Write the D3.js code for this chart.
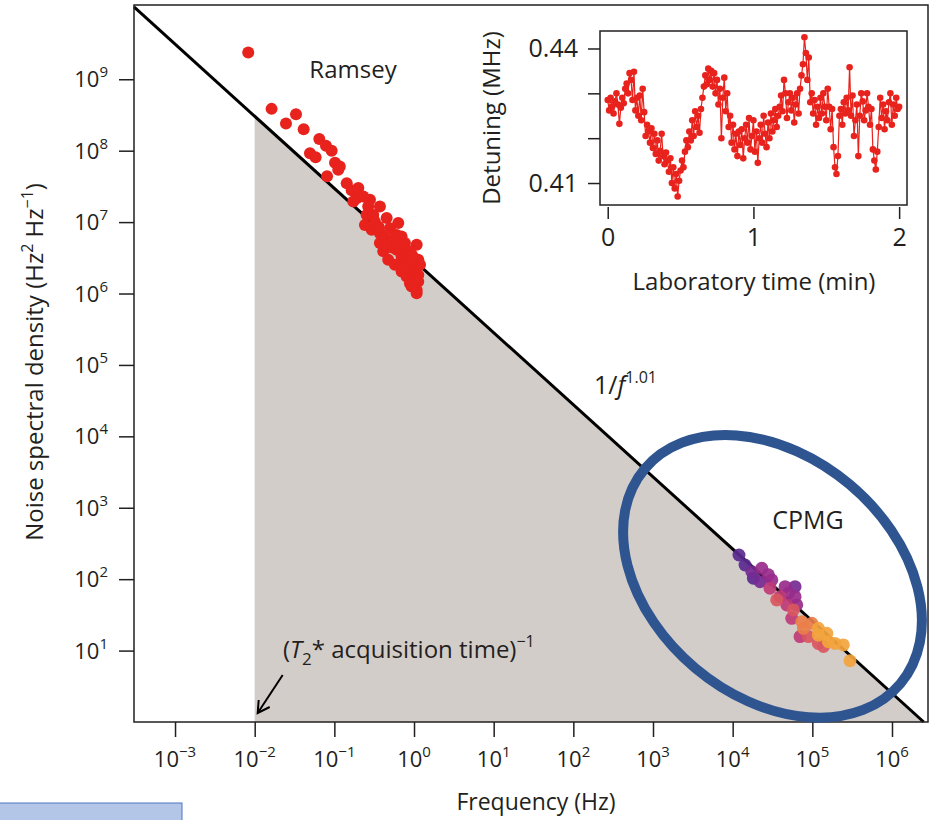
<!DOCTYPE html>
<meta charset="utf-8">
<head>
<style>
body {
  margin: 0;
  background: #fff;
  font-family: 'Open Sans', 'Noto Sans', sans-serif;
}
svg text {
  fill: #231f20;
}
.axis path {
  display: none;
}
.axis line {
  stroke: #231f20;
  stroke-width: 1.5;
}
</style>
</head>
<body>
<div id="chart"></div>

<script src="https://cdn.jsdelivr.net/npm/d3@7"></script>
<script>

// ---- main panel data ----
var xTickExps = [-3, -2, -1, 0, 1, 2, 3, 4, 5, 6];
var yTickExps = [1, 2, 3, 4, 5, 6, 7, 8, 9];

// 1/f fit: S = lineAmp / f^lineSlope
var lineAmp = 2.9e6;
var lineSlope = 1.01;
var shadeStart = 0.01;   // (T2* acquisition time)^-1

var ramseyFreq = [8.3e-3, 1.63e-2, 3.30e-2, 2.47e-2, 4.12e-2, 6.47e-2, 7.85e-2, 9.25e-2, 4.94e-2, 5.82e-2,
  0.102, 0.117, 0.112, 8.1e-2, 0.143, 0.165, 0.200, 0.191, 0.231, 0.280,
  0.173, 0.266, 0.373, 0.254, 0.308, 0.453, 0.634, 0.242, 0.294, 0.499,
  0.373, 0.605, 0.698, 0.373, 0.499, 0.769, 1.08, 0.411, 0.605, 0.889,
  0.474, 0.698, 1.13, 0.575, 0.845, 1.19, 0.698, 0.977, 0.807, 1.13,
  0.889, 1.13, 1.08, 0.933, 1.08, 0.323, 0.528, 0.769, 0.432, 0.942,
  0.36, 0.55, 0.66, 0.82, 0.95, 1.02, 0.44, 0.72];
var ramseyPsd = [2.37e9, 3.85e8, 3.24e8, 2.40e8, 2.00e8, 1.46e8, 1.17e8, 1.00e8, 9.2e7, 8.1e7,
  6.8e7, 6.0e7, 5.4e7, 4.4e7, 3.5e7, 2.8e7, 3.0e7, 2.16e7, 2.28e7, 2.05e7,
  1.94e7, 1.65e7, 1.65e7, 1.26e7, 1.26e7, 1.14e7, 9.7e6, 9.1e6, 7.8e6, 8.2e6,
  7.0e6, 6.6e6, 6.3e6, 5.1e6, 5.3e6, 5.1e6, 4.8e6, 3.9e6, 4.1e6, 3.9e6,
  2.96e6, 3.3e6, 2.96e6, 2.52e6, 2.52e6, 2.52e6, 2.03e6, 2.14e6, 1.73e6, 1.82e6,
  1.39e6, 1.47e6, 1.12e6, 1.25e6, 1.01e6, 1.01e7, 4.4e6, 3.2e6, 6.0e6, 2.77e6,
  8.6e6, 5.8e6, 4.5e6, 3.5e6, 3.4e6, 1.6e6, 4.9e6, 2.4e6];

var cpmgFreq = [1.20e4, 1.43e4, 1.74e4, 1.82e4, 2.32e4, 2.81e4, 3.10e4, 2.21e4, 2.94e4, 4.55e4,
  6.07e4, 3.94e4, 5.01e4, 3.57e4, 4.78e4, 6.37e4, 5.79e4, 5.52e4, 7.38e4, 7.74e4,
  9.86e4, 1.19e5, 7.01e4, 8.93e4, 1.19e5, 1.52e5, 1.19e5, 1.59e5, 1.93e5, 2.45e5,
  1.38e5, 2.97e5, 6.07e4];
var cpmgPsd = [218, 158, 127, 103, 142, 115, 97.5, 92.3, 74.6, 78.5,
  78.5, 56.9, 63.5, 51.2, 43.6, 43.6, 37.1, 28.3, 25.4, 20.5,
  24.1, 20.5, 15.7, 15.7, 16.5, 17.5, 12.6, 13.3, 12.6, 12.0,
  11.4, 7.2, 56.9];
var cpmgGroup = [0, 0, 1, 0, 2, 2, 2, 1, 3, 2,
  1, 3, 2, 4, 3, 2, 4, 3, 5, 5,
  5, 6, 3, 4, 6, 6, 4, 6, 6, 6,
  4, 6, 2];
var cpmgPalette = ["#5b2a90", "#752a93", "#982b8b", "#c03b77", "#d95760", "#ea7e49", "#f3a43c"];

// ---- inset data: detuning (MHz), one sample every 0.01 min ----
var insetStep = 0.01;
var detuning = [
  0.4285, 0.4262, 0.4290, 0.4270, 0.4255, 0.4282, 0.4300, 0.4275, 0.4232, 0.4268, 0.4290,
  0.4278, 0.4310, 0.4322, 0.4300, 0.4345, 0.4330, 0.4285, 0.4348, 0.4262, 0.4290,
  0.4250, 0.4295, 0.4240, 0.4310, 0.4258, 0.4205, 0.4230, 0.4215, 0.4190, 0.4222,
  0.4178, 0.4210, 0.4165, 0.4195, 0.4150, 0.4172, 0.4210, 0.4160, 0.4142, 0.4168,
  0.4150, 0.4125, 0.4155, 0.4100, 0.4135, 0.4088, 0.4120, 0.4070, 0.4105, 0.4128,
  0.4150, 0.4135, 0.4170, 0.4195, 0.4180, 0.4215, 0.4195, 0.4240, 0.4205, 0.4260,
  0.4225, 0.4250, 0.4212, 0.4265, 0.4290, 0.4315, 0.4340, 0.4320, 0.4355, 0.4330,
  0.4350, 0.4315, 0.4345, 0.4300, 0.4330, 0.4275, 0.4310, 0.4200, 0.4290, 0.4335,
  0.4260, 0.4300, 0.4225, 0.4250, 0.4190, 0.4230, 0.4175, 0.4210, 0.4160, 0.4215,
  0.4185, 0.4220, 0.4155, 0.4200, 0.4230, 0.4190, 0.4245, 0.4175, 0.4205, 0.4240,
  0.4170, 0.4215, 0.4145, 0.4200, 0.4230, 0.4190, 0.4250, 0.4210, 0.4180, 0.4235,
  0.4200, 0.4255, 0.4215, 0.4240, 0.4265, 0.4225, 0.4250, 0.4270, 0.4295, 0.4260,
  0.4330, 0.4300, 0.4245, 0.4280, 0.4300, 0.4262, 0.4290, 0.4235, 0.4275, 0.4300,
  0.4255, 0.4310, 0.4340, 0.4365, 0.4425, 0.4390, 0.4330, 0.4380, 0.4280, 0.4300,
  0.4255, 0.4285, 0.4230, 0.4270, 0.4245, 0.4290, 0.4255, 0.4300, 0.4270, 0.4240,
  0.4310, 0.4270, 0.4220, 0.4265, 0.4180, 0.4135, 0.4120, 0.4160, 0.4250, 0.4265,
  0.4230, 0.4280, 0.4255, 0.4290, 0.4262, 0.4358, 0.4250, 0.4295, 0.4205, 0.4240,
  0.4275, 0.4160, 0.4250, 0.4300, 0.4282, 0.4240, 0.4262, 0.4300, 0.4270, 0.4230,
  0.4265, 0.4175, 0.4150, 0.4130, 0.4170, 0.4225, 0.4290, 0.4245, 0.4275, 0.4220,
  0.4260, 0.4240, 0.4280, 0.4300, 0.4230, 0.4275, 0.4250, 0.4290, 0.4265, 0.4270];
var insetXTicks = [0, 1, 2];
var insetYTicks = [0.41, 0.42, 0.43, 0.44];
var insetYLabelled = [0.41, 0.44];

// ---- layout ----
var width = 940, height = 820;
var frame = {left: 134, top: 5, right: 928, bottom: 722};
var inset = {left: 600, top: 31, right: 907, bottom: 205};

var svg = d3.select("#chart").append("svg")
    .attr("width", width)
    .attr("height", height);

var x = d3.scaleLog()
    .domain([Math.pow(10, -3.515), Math.pow(10, 6.452)])
    .range([frame.left, frame.right]);

var y = d3.scaleLog()
    .domain([1, Math.pow(10, 10.04)])
    .range([frame.bottom, frame.top]);

function fit(f) { return lineAmp * Math.pow(f, -lineSlope); }
var fEnd = Math.pow(lineAmp, 1 / lineSlope);   // where the fit hits 10^0

// shaded region under the fit
svg.append("path")
    .datum([shadeStart, fEnd])
    .attr("fill", "#d3cdca")
    .attr("d", d3.area()
      .x(function(d) { return x(d); })
      .y0(y(1))
      .y1(function(d) { return y(fit(d)); }));

// fit line
svg.append("path")
    .datum([x.domain()[0], fEnd])
    .attr("fill", "none")
    .attr("stroke", "#000")
    .attr("stroke-width", 3)
    .attr("d", d3.line()
      .x(function(d) { return x(d); })
      .y(function(d) { return y(fit(d)); }));

// frame
svg.append("rect")
    .attr("x", frame.left)
    .attr("y", frame.top)
    .attr("width", frame.right - frame.left)
    .attr("height", frame.bottom - frame.top)
    .attr("fill", "none")
    .attr("stroke", "#231f20")
    .attr("stroke-width", 1.5);

// axes (ticks only, labels drawn with superscripts below)
svg.append("g")
    .attr("class", "axis")
    .attr("transform", "translate(0," + frame.bottom + ")")
    .call(d3.axisBottom(x)
      .tickValues(xTickExps.map(function(e) { return Math.pow(10, e); }))
      .tickSize(15)
      .tickFormat(""));

svg.append("g")
    .attr("class", "axis")
    .attr("transform", "translate(" + frame.left + ",0)")
    .call(d3.axisLeft(y)
      .tickValues(yTickExps.map(function(e) { return Math.pow(10, e); }))
      .tickSize(15)
      .tickFormat(""));

function powLabel(sel, e) {
  sel.append("tspan").text("10");
  sel.append("tspan")
      .attr("font-size", 15)
      .attr("dy", -10)
      .text(e < 0 ? "\u2212" + (-e) : e);
}

svg.selectAll(".xlab")
    .data(xTickExps)
  .enter().append("text")
    .attr("class", "xlab")
    .attr("x", function(d) { return x(Math.pow(10, d)); })
    .attr("y", 767)
    .attr("text-anchor", "middle")
    .attr("font-size", 22)
    .each(function(d) { powLabel(d3.select(this), d); });

svg.selectAll(".ylab")
    .data(yTickExps)
  .enter().append("text")
    .attr("class", "ylab")
    .attr("x", 108)
    .attr("y", function(d) { return y(Math.pow(10, d)) + 8; })
    .attr("text-anchor", "end")
    .attr("font-size", 22)
    .each(function(d) { powLabel(d3.select(this), d); });

svg.append("text")
    .attr("x", (frame.left + frame.right) / 2 + 5)
    .attr("y", 810)
    .attr("text-anchor", "middle")
    .attr("font-size", 23)
    .text("Frequency (Hz)");

var yTitle = svg.append("text")
    .attr("transform", "translate(43," + 362 + ") rotate(-90)")
    .attr("text-anchor", "middle")
    .attr("font-size", 24);
yTitle.append("tspan").text("Noise spectral density (Hz");
yTitle.append("tspan").attr("font-size", 16).attr("dy", -10).text("2");
yTitle.append("tspan").attr("dy", 10).text(" Hz");
yTitle.append("tspan").attr("font-size", 16).attr("dy", -10).text("\u22121");
yTitle.append("tspan").attr("dy", 10).text(")");

// CPMG ellipse
var ellCx = x(Math.pow(10, 4.50)), ellCy = y(Math.pow(10, 2.04));
svg.append("ellipse")
    .attr("transform", "translate(" + ellCx + "," + ellCy + ") rotate(40)")
    .attr("rx", 167)
    .attr("ry", 120)
    .attr("fill", "none")
    .attr("stroke", "#2f5591")
    .attr("stroke-width", 10);

// Ramsey points
svg.append("g").selectAll("circle")
    .data(ramseyFreq)
  .enter().append("circle")
    .attr("cx", function(d) { return x(d); })
    .attr("cy", function(d, i) { return y(ramseyPsd[i]); })
    .attr("r", 6)
    .attr("fill", "#e8221c");

// CPMG points, purple underneath orange
var cpmg = cpmgFreq.map(function(f, i) { return {f: f, s: cpmgPsd[i], g: cpmgGroup[i]}; })
    .sort(function(a, b) { return a.g - b.g; });

svg.append("g").selectAll("circle")
    .data(cpmg)
  .enter().append("circle")
    .attr("cx", function(d) { return x(d.f); })
    .attr("cy", function(d) { return y(d.s); })
    .attr("r", 6.5)
    .attr("fill", function(d) { return cpmgPalette[d.g]; })
    .attr("fill-opacity", 0.92);

// annotations
svg.append("text")
    .attr("x", 353).attr("y", 78)
    .attr("text-anchor", "middle")
    .attr("font-size", 24)
    .text("Ramsey");

svg.append("text")
    .attr("x", 808).attr("y", 529)
    .attr("text-anchor", "middle")
    .attr("font-size", 25)
    .text("CPMG");

var fitLab = svg.append("text")
    .attr("x", 594).attr("y", 394)
    .attr("font-size", 25);
fitLab.append("tspan").text("1/");
fitLab.append("tspan").attr("font-style", "italic").text("f");
fitLab.append("tspan").attr("font-size", 16).attr("dy", -11).text("1.01");

var acq = svg.append("text")
    .attr("x", 283).attr("y", 658)
    .attr("font-size", 24);
acq.append("tspan").text("(");
acq.append("tspan").attr("font-style", "italic").text("T");
acq.append("tspan").attr("font-size", 17).attr("dy", 7).text("2");
acq.append("tspan").attr("dy", -7).text("* acquisition time)");
acq.append("tspan").attr("font-size", 16).attr("dy", -11).text("\u22121");

// arrow pointing at the start of the shaded region
var tipX = x(shadeStart) + 3, tipY = y(1) - 9;
svg.append("line")
    .attr("x1", tipX + 25).attr("y1", tipY - 38)
    .attr("x2", tipX).attr("y2", tipY)
    .attr("stroke", "#000")
    .attr("stroke-width", 2);
svg.append("path")
    .attr("d", "M" + (tipX + 1) + "," + (tipY - 13) + "L" + tipX + "," + tipY + "L" + (tipX + 12) + "," + (tipY - 6))
    .attr("fill", "none")
    .attr("stroke", "#000")
    .attr("stroke-width", 2);

// ---- inset ----
var ix = d3.scaleLinear()
    .domain([-0.053, 2.054])
    .range([inset.left, inset.right]);

var iy = d3.scaleLinear()
    .domain([0.4051, 0.4439])
    .range([inset.bottom, inset.top]);

svg.append("rect")
    .attr("x", inset.left)
    .attr("y", inset.top)
    .attr("width", inset.right - inset.left)
    .attr("height", inset.bottom - inset.top)
    .attr("fill", "#fff")
    .attr("stroke", "#231f20")
    .attr("stroke-width", 1.5);

svg.append("g")
    .attr("class", "axis")
    .attr("transform", "translate(0," + (inset.bottom + 2) + ")")
    .call(d3.axisBottom(ix)
      .tickValues(insetXTicks)
      .tickSize(12)
      .tickPadding(9)
      .tickFormat(d3.format("d")))
    .selectAll("text")
      .attr("font-size", 25)
      .attr("font-family", "'Open Sans', sans-serif");

svg.append("g")
    .attr("class", "axis")
    .attr("transform", "translate(" + inset.left + ",0)")
    .call(d3.axisLeft(iy)
      .tickValues(insetYTicks)
      .tickSize(12)
      .tickPadding(10)
      .tickFormat(function(d) { return insetYLabelled.indexOf(d) >= 0 ? d3.format(".2f")(d) : ""; }))
    .selectAll("text")
      .attr("font-size", 25)
      .attr("font-family", "'Open Sans', sans-serif");

svg.append("text")
    .attr("transform", "translate(500,118) rotate(-90)")
    .attr("text-anchor", "middle")
    .attr("font-size", 24)
    .text("Detuning (MHz)");

svg.append("text")
    .attr("x", 754).attr("y", 290)
    .attr("text-anchor", "middle")
    .attr("font-size", 24)
    .text("Laboratory time (min)");

svg.append("path")
    .datum(detuning)
    .attr("fill", "none")
    .attr("stroke", "#e8221c")
    .attr("stroke-width", 1.2)
    .attr("d", d3.line()
      .x(function(d, i) { return ix(i * insetStep); })
      .y(function(d) { return iy(d); }));

svg.append("g").selectAll("circle")
    .data(detuning)
  .enter().append("circle")
    .attr("cx", function(d, i) { return ix(i * insetStep); })
    .attr("cy", function(d) { return iy(d); })
    .attr("r", 3.3)
    .attr("fill", "#e8221c");

// light-blue box in the bottom-left corner
svg.append("rect")
    .attr("x", -2).attr("y", 803)
    .attr("width", 184).attr("height", 22)
    .attr("fill", "#b4c6e7")
    .attr("stroke", "#4a76c6")
    .attr("stroke-width", 1);

</script>
</body>
